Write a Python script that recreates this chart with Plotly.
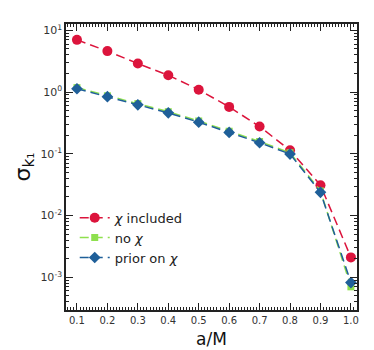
import plotly.graph_objects as go

a_over_M = [0.1, 0.2, 0.3, 0.4, 0.5, 0.6, 0.7, 0.8, 0.9, 1.0]
sigma_chi_included = [7.0, 4.6, 2.9, 1.87, 1.09, 0.575, 0.276, 0.114, 0.031, 0.0021]
sigma_no_chi = [1.18, 0.87, 0.65, 0.48, 0.34, 0.232, 0.158, 0.104, 0.025, 0.0007]
sigma_prior_chi = [1.13, 0.84, 0.62, 0.46, 0.325, 0.222, 0.151, 0.099, 0.0238, 0.00082]

y_tick_vals = [1e-3, 1e-2, 1e-1, 1e0, 1e1]
y_tick_text = ["10<sup>-3</sup>", "10<sup>-2</sup>", "10<sup>-1</sup>", "10<sup>0</sup>", "10<sup>1</sup>"]
x_tick_vals = [0.1, 0.2, 0.3, 0.4, 0.5, 0.6, 0.7, 0.8, 0.9, 1.0]
x_tick_text = ["0.1", "0.2", "0.3", "0.4", "0.5", "0.6", "0.7", "0.8", "0.9", "1.0"]

RED = "#DC143C"
GREEN = "#8EE04E"
BLUE = "#1F5F99"

fig = go.Figure()
fig.add_trace(go.Scatter(
    x=a_over_M, y=sigma_chi_included, mode="lines+markers",
    name="<i>χ</i> included",
    line=dict(color=RED, width=1.5, dash="9px,5px"),
    marker=dict(symbol="circle", size=10, color=RED)))
fig.add_trace(go.Scatter(
    x=a_over_M, y=sigma_no_chi, mode="lines+markers",
    name="no <i>χ</i>",
    line=dict(color=GREEN, width=1.5, dash="9px,5px"),
    marker=dict(symbol="square", size=7, color=GREEN)))
fig.add_trace(go.Scatter(
    x=a_over_M, y=sigma_prior_chi, mode="lines+markers",
    name="prior on <i>χ</i>",
    line=dict(color=BLUE, width=1.5, dash="9px,5px"),
    marker=dict(symbol="diamond", size=9, color=BLUE)))

minor_y = []
for e in range(-4, 2):
    for d in range(2, 10):
        minor_y.append(d * 10 ** e)

fig.update_layout(
    width=374, height=350,
    margin=dict(l=58, r=25, t=16, b=44),
    paper_bgcolor="white", plot_bgcolor="white",
    font=dict(family="DejaVu Sans", color="#222222", size=11),
    showlegend=True,
    legend=dict(x=0.03, y=0.375, xanchor="left", yanchor="top",
                bgcolor="rgba(0,0,0,0)", borderwidth=0,
                font=dict(size=13, color="#222222"),
                itemwidth=30, tracegroupgap=2),
    xaxis=dict(
        range=[0.064, 1.02], showgrid=False, zeroline=False,
        showline=True, linecolor="#222222", linewidth=1.5, mirror="ticks",
        ticks="inside", ticklen=7, tickwidth=1.2, tickcolor="#222222",
        tickmode="array", tickvals=x_tick_vals, ticktext=x_tick_text,
        tickfont=dict(size=10, color="#333333"),
        minor=dict(ticks="inside", ticklen=3.5, tickwidth=1, tickcolor="#222222",
                   dtick=0.01, tick0=0, showgrid=False),
        title=dict(text="a/M", font=dict(size=17, color="#111111"), standoff=8),
    ),
    yaxis=dict(
        type="log", range=[-3.53, 1.102], showgrid=False, zeroline=False,
        showline=True, linecolor="#222222", linewidth=1.5, mirror="ticks",
        ticks="inside", ticklen=7, tickwidth=1.2, tickcolor="#222222",
        tickmode="array", tickvals=y_tick_vals, ticktext=y_tick_text,
        tickfont=dict(size=11, color="#333333"),
        minor=dict(ticks="inside", ticklen=3.5, tickwidth=1, tickcolor="#222222",
                   tickvals=minor_y, showgrid=False),
        title=dict(text="σ<sub>k₁</sub>", font=dict(size=22, color="#111111"), standoff=4),
    ),
)

fig.write_html("out.html")
